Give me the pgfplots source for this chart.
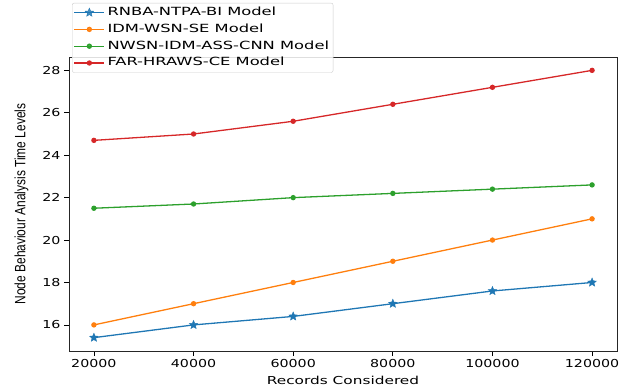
\documentclass[border=0pt]{standalone}
\usepackage{pgfplots}
\pgfplotsset{compat=1.18}
\usepackage{fontspec}
\setmainfont{DejaVu Sans}
\newfontfamily\wide[FakeStretch=1.3]{DejaVu Sans}
\newfontfamily\widex[FakeStretch=1.4]{DejaVu Sans}
\newfontfamily\widel[FakeStretch=1.45]{DejaVu Sans}
\newfontfamily\arial{Liberation Sans}
\definecolor{mblue}{HTML}{1F77B4}
\definecolor{morange}{HTML}{FF7F0E}
\definecolor{mgreen}{HTML}{2CA02C}
\definecolor{mred}{HTML}{D62728}
\newcommand{\lf}{\widel\fontsize{11.3}{13}\selectfont}
\pgfdeclareplotmark{fstar}{%
  \pgfpathmoveto{\pgfqpointpolar{90}{\pgfplotmarksize}}%
  \pgfpathlineto{\pgfqpointpolar{126}{0.45\pgfplotmarksize}}%
  \pgfpathlineto{\pgfqpointpolar{162}{\pgfplotmarksize}}%
  \pgfpathlineto{\pgfqpointpolar{198}{0.45\pgfplotmarksize}}%
  \pgfpathlineto{\pgfqpointpolar{234}{\pgfplotmarksize}}%
  \pgfpathlineto{\pgfqpointpolar{270}{0.45\pgfplotmarksize}}%
  \pgfpathlineto{\pgfqpointpolar{306}{\pgfplotmarksize}}%
  \pgfpathlineto{\pgfqpointpolar{342}{0.45\pgfplotmarksize}}%
  \pgfpathlineto{\pgfqpointpolar{18}{\pgfplotmarksize}}%
  \pgfpathlineto{\pgfqpointpolar{54}{0.45\pgfplotmarksize}}%
  \pgfpathclose
  \pgfusepathqfillstroke}
\begin{document}
\begin{tikzpicture}
\useasboundingbox (0,0) rectangle (631bp,391bp);
\begin{axis}[
  at={(69bp,40bp)}, anchor=south west,
  scale only axis, width=548bp, height=294bp,
  xmin=15000, xmax=125000, ymin=14.77, ymax=28.63,
  xtick={20000,40000,60000,80000,100000,120000},
  xticklabels={20000,40000,60000,80000,100000,120000},
  ytick={16,18,20,22,24,26,28},
  yticklabels={16,18,20,22,24,26,28},
  scaled x ticks=false,
  tick label style={font=\wide\fontsize{11}{13}\selectfont},
  tick align=outside, tick pos=left,
  major tick length=5bp,
  every tick/.style={black, line width=0.8pt},
  axis line style={line width=0.8pt, black!85},
  xlabel={\widex\fontsize{11}{13}\selectfont Records Considered},
  ylabel={\scalebox{1}[1.25]{\arial\fontsize{12}{14}\selectfont Node Behaviour Analysis Time Levels}},
  xlabel style={yshift=-2bp},
  ylabel style={yshift=7bp},
  legend style={at={(axis description cs:0.0055,1.184)}, anchor=north west,
    draw=black!20, rounded corners=2pt, fill=white, fill opacity=0.85, text opacity=1,
    row sep=0.8bp, inner sep=1.5bp,
    nodes={text height=8.5bp, text depth=2.5bp, inner sep=2.5bp}},
  legend cell align=left,
  legend image code/.code={\draw[mark repeat=2,mark phase=2] plot coordinates {(0bp,0bp) (15bp,0bp) (30bp,0bp)};},
  every axis plot/.append style={line width=1.3pt},
]
\addplot[mblue, mark=fstar, mark size=4.5bp, mark options={line width=0.4pt, fill=mblue}] coordinates {(20000,15.4) (40000,16) (60000,16.4) (80000,17) (100000,17.6) (120000,18)};
\addlegendentry{\lf RNBA-NTPA-BI Model}
\addplot[morange, mark=*, mark size=2bp] coordinates {(20000,16) (40000,17) (60000,18) (80000,19) (100000,20) (120000,21)};
\addlegendentry{\lf IDM-WSN-SE Model}
\addplot[mgreen, mark=*, mark size=2bp] coordinates {(20000,21.5) (40000,21.7) (60000,22) (80000,22.2) (100000,22.4) (120000,22.6)};
\addlegendentry{\lf NWSN-IDM-ASS-CNN Model}
\addplot[mred, mark=*, mark size=2bp] coordinates {(20000,24.7) (40000,25) (60000,25.6) (80000,26.4) (100000,27.2) (120000,28)};
\addlegendentry{\lf FAR-HRAWS-CE Model}
\end{axis}
\end{tikzpicture}
\end{document}
